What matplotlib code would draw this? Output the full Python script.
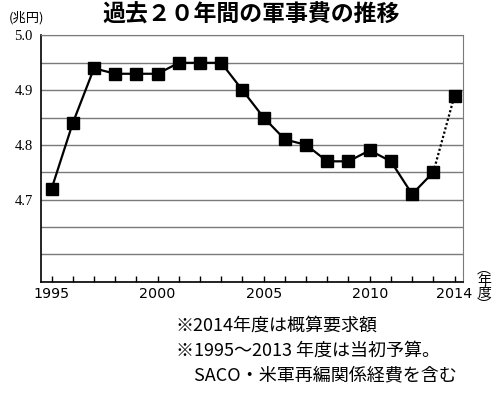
import matplotlib
matplotlib.use("Agg")
import matplotlib.pyplot as plt
from matplotlib.ticker import MultipleLocator, FixedLocator

plt.rcParams['font.family'] = ['Noto Sans CJK JP', 'DejaVu Sans']

years = list(range(1995, 2015))
spending = [4.72, 4.84, 4.94, 4.93, 4.93, 4.93, 4.95, 4.95, 4.95, 4.90,
            4.85, 4.81, 4.80, 4.77, 4.77, 4.79, 4.77, 4.71, 4.75, 4.89]
xtick_labels = [1995, 2000, 2005, 2010, 2014]
ytick_values = [4.7, 4.8, 4.9, 5.0]

fig = plt.figure(figsize=(5.0, 3.94), dpi=100)
ax = fig.add_axes([0.082, 0.285, 0.844, 0.625])

# solid for budgets, dotted for the 2014 request
ax.plot(years[:-1], spending[:-1], color='black', lw=1.6, marker='s',
        markersize=9, zorder=3)
ax.plot(years[-2:], spending[-2:], color='black', lw=1.6, linestyle=(0, (1, 1)),
        zorder=2)
ax.plot(years[-1:], spending[-1:], color='black', marker='s', markersize=9,
        linestyle='none', zorder=3)

ax.set_xlim(1994.5, 2014.4)
ax.set_ylim(4.55, 5.0)
ax.yaxis.set_major_locator(FixedLocator(ytick_values))
ax.yaxis.set_minor_locator(MultipleLocator(0.05))
ax.set_yticklabels([f"{v:.1f}" for v in ytick_values], family='Liberation Serif',
                   fontsize=10.5)
ax.grid(True, which='both', axis='y', color='#7a7a7a', lw=1.0)
ax.tick_params(axis='y', which='both', length=0, pad=6)

ax.xaxis.set_major_locator(FixedLocator(years))
ax.set_xticklabels([str(y) if y in xtick_labels else '' for y in years],
                   family='DejaVu Sans', fontsize=10.3)
ax.tick_params(axis='x', direction='in', length=4, width=1, pad=4)

for side in ['top', 'right']:
    ax.spines[side].set_color('#7a7a7a')
for side in ['left', 'bottom']:
    ax.spines[side].set_color('black')
    ax.spines[side].set_linewidth(1.2)
ax.set_axisbelow(True)

fig.text(0.502, 0.962, "過去２０年間の軍事費の推移", ha='center', va='center',
         fontsize=16.5, fontweight='bold')
fig.text(0.018, 0.955, "(兆円)", ha='left', va='center', fontsize=9.5)
fig.text(0.968, 0.272, "︵\n年\n度\n︶", ha='center', va='center', fontsize=10,
         linespacing=0.8)

notes = "※2014年度は概算要求額\n※1995～2013 年度は当初予算。\n　SACO・米軍再編関係経費を含む"
fig.text(0.352, 0.196, notes, ha='left', va='top', fontsize=13, linespacing=1.5)

fig.savefig("out.png", dpi=100, facecolor='white')
